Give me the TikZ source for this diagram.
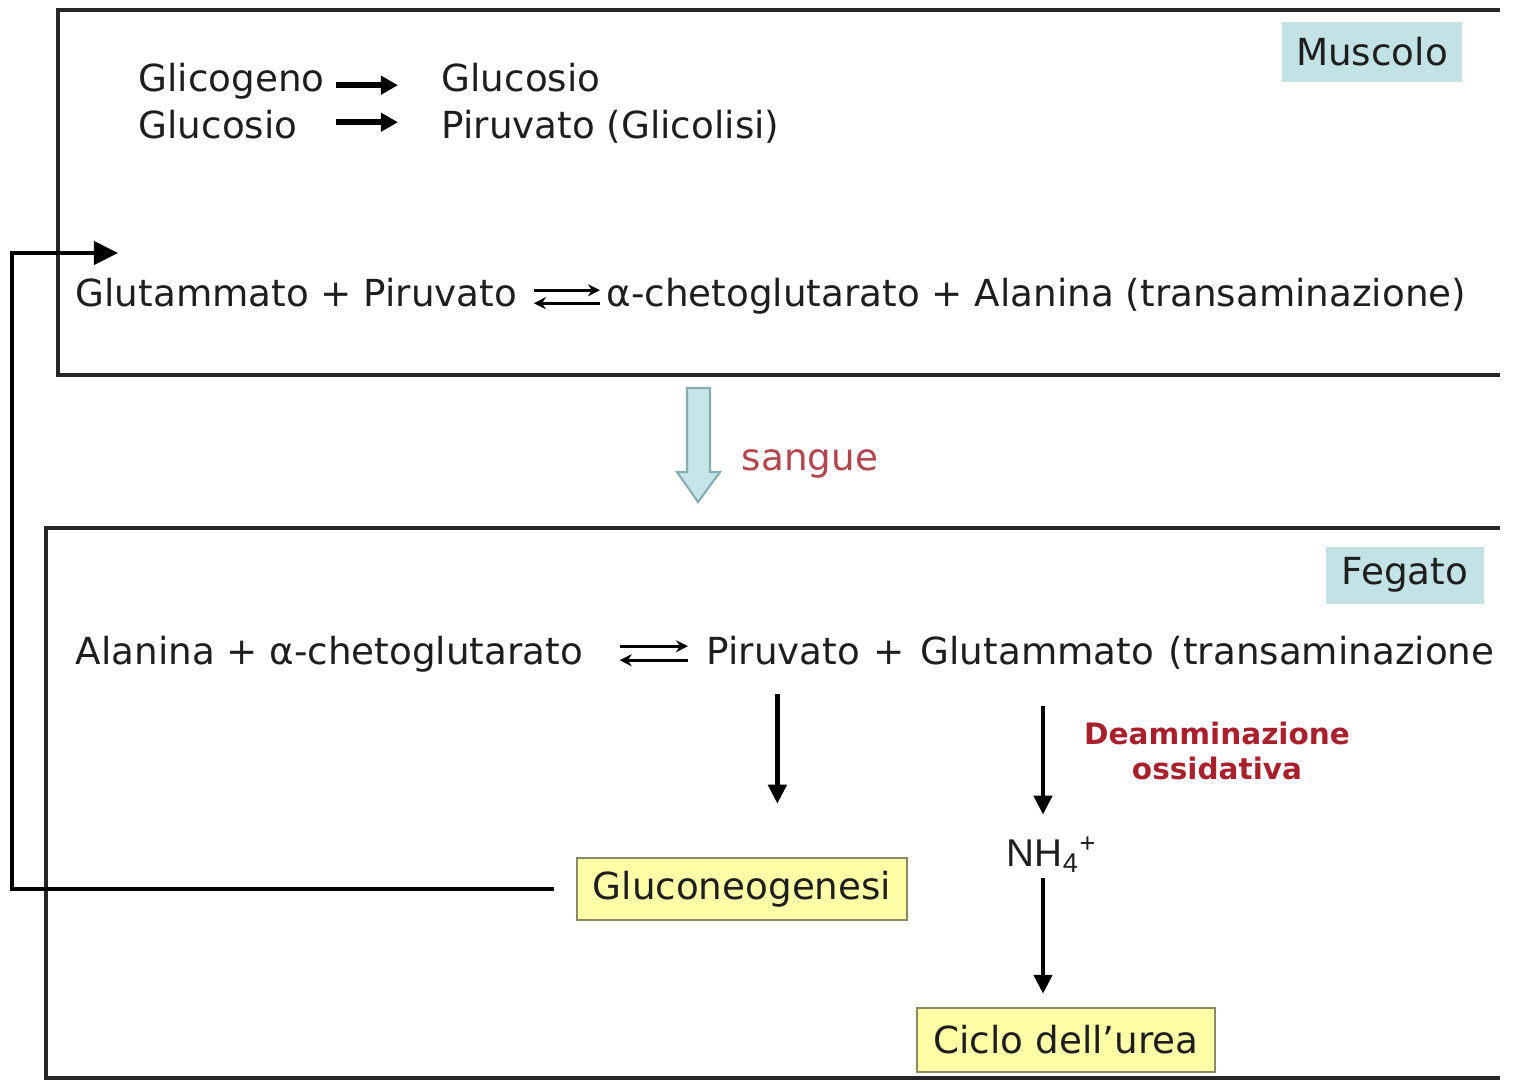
\documentclass[tikz,border=0pt]{standalone}
\usepackage{fontspec}
\setmainfont{DejaVu Sans}
\newfontfamily\ionfont{Liberation Sans}
\usetikzlibrary{arrows.meta,positioning,calc}
\definecolor{ink}{HTML}{1E1E1E}
\definecolor{frame}{HTML}{262626}
\definecolor{tagcyan}{HTML}{C2E2E5}
\definecolor{pale}{HTML}{FFFFA8}
\definecolor{olive}{HTML}{8A8A66}
\definecolor{bloodred}{HTML}{B3454F}
\definecolor{deepred}{HTML}{A8202C}
\definecolor{flowfill}{HTML}{C6E5E8}
\definecolor{flowline}{HTML}{86ADAF}

\begin{document}
\begin{tikzpicture}[x=0.01cm, y=-0.01cm, line join=miter,
  txt/.style={anchor=base west, inner sep=0pt, text height=0.75em, text depth=0.25em,
    font=\fontsize{10.6}{13}\selectfont, text=ink},
  tag/.style={fill=tagcyan, inner sep=0pt, font=\fontsize{10.6}{13}\selectfont, text=ink},
  yellowbox/.style={draw=olive, fill=pale, line width=0.7pt, inner sep=0pt,
    font=\fontsize{10.6}{13}\selectfont, text=ink},
  conv/.style={line width=1.6pt, -{Triangle[length=1.7mm,width=1.8mm]}},
  eqm/.style={line width=0.8pt, -{Stealth[length=1.2mm,width=1.2mm]}},
  dn/.style={line width=1.3pt, -{Triangle[length=1.9mm,width=1.8mm]}},
  back/.style={line width=1.15pt, -{Triangle[length=2.4mm,width=2.3mm]}}]
  \useasboundingbox (0,0) rectangle (1516,1081);
  % muscolo
  \draw[frame, line width=1pt] (1500,10) -- (58,10) -- (58,375) -- (1500,375);
  \node[tag, minimum width=1.8cm, minimum height=0.6cm] (mus) at (1372,52) {Muscolo};
  \node[txt] (gcg) at (138,91) {Glicogeno};
  \node[txt] (glc1) at (441,91) {Glucosio};
  \node[txt] (glc2) at (138,138) {Glucosio};
  \node[txt] (pir1) at (441,138) {Piruvato (Glicolisi)};
  \draw[conv, shorten <=0.11cm, shorten >=0.43cm] ([yshift=-0.03cm]gcg.east) -- ([yshift=-0.03cm]glc1.west);
  \draw[conv, shorten <=0.38cm, shorten >=0.43cm] ([yshift=0.07cm]glc2.east) -- ([yshift=0.07cm]pir1.west);
  \node[txt] (r1) at (75,306) {Glutammato + Piruvato};
  \node[txt] (r2) at (606,306) {α-chetoglutarato + Alanina (transaminazione)};
  \draw[eqm, shorten <=0.16cm, shorten >=0.06cm] ([yshift=0.07cm]r1.east) -- ([yshift=0.07cm]r2.west);
  \draw[eqm, shorten <=0.06cm, shorten >=0.16cm] ([yshift=-0.06cm]r2.west) -- ([yshift=-0.06cm]r1.east);
  % sangue
  \draw[flowline, fill=flowfill, line width=0.6pt]
    (687,388) -- (710,388) -- (710,472) -- (720,472) -- (698,502) -- (677,472) -- (687,472) -- cycle;
  \node[font=\fontsize{10.6}{13}\selectfont, text=bloodred] (blood) at (810,464) {sangue};
  % fegato
  \draw[frame, line width=1pt] (1500,528) -- (46,528) -- (46,1078) -- (1500,1078);
  \node[tag, minimum width=1.58cm, minimum height=0.57cm] (feg) at (1405,575) {Fegato};
  \node[txt] (l1) at (75,664) {Alanina + α-chetoglutarato};
  \node[txt] (pir2) at (706,664) {Piruvato};
  \node[txt] (plus2) at (873,664) {+};
  \node[txt] (glt) at (920,664) {Glutammato};
  \node[txt] (trn) at (1168,664) {(transaminazione};
  \draw[eqm, shorten <=0.36cm, shorten >=0.18cm] ([yshift=0.09cm]l1.east) -- ([yshift=0.09cm]pir2.west);
  \draw[eqm, shorten <=0.18cm, shorten >=0.36cm] ([yshift=-0.05cm]pir2.west) -- ([yshift=-0.05cm]l1.east);
  \node[yellowbox, minimum width=3.3cm, minimum height=0.62cm] (gng) at (742,889) {Gluconeogenesi};
  \node[font=\ionfont\fontsize{11}{13}\selectfont, text=ink, inner sep=0pt] (nh4) at (1052,855) {NH\textsubscript{4}\textsuperscript{+}};
  \node[yellowbox, minimum width=2.98cm, minimum height=0.64cm] (urea) at (1066,1040) {Ciclo dell’urea};
  \node[font=\bfseries\fontsize{8.4}{10}\selectfont, text=deepred, align=center] (deam) at (1217,751) {Deamminazione\\ossidativa};
  \draw[dn, shorten <=0.2cm, shorten >=0.53cm] ([xshift=-0.06cm]pir2.south) -- ([xshift=-0.06cm]pir2.south |- gng.north);
  \draw[dn, shorten <=0.32cm, shorten >=0.22cm] ([xshift=-0.09cm]nh4.north |- glt.south) -- ([xshift=-0.09cm]nh4.north);
  \draw[dn, shorten <=0.05cm, shorten >=0.13cm] ([xshift=-0.09cm]nh4.south) -- ([xshift=-0.09cm]nh4.south |- urea.north);
  % ritorno
  \coordinate (bend) at (12,253);
  \coordinate (ret) at (118,253);
  \draw[back, shorten <=0.22cm] (gng.west) -| (bend) -- (ret);
\end{tikzpicture}
\end{document}
